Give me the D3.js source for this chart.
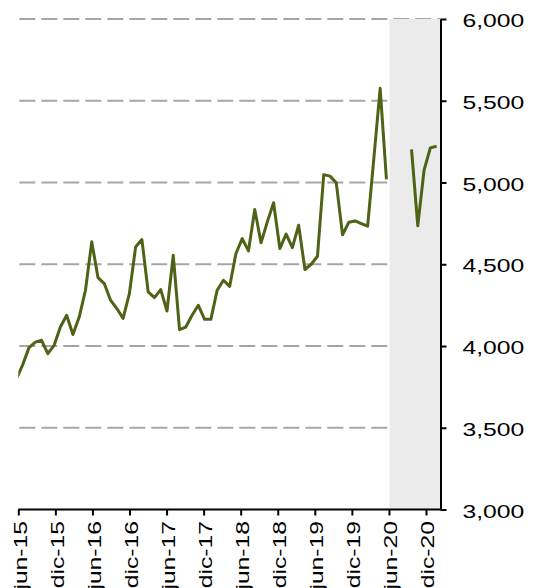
<!DOCTYPE html>
<html lang="es">
<head>
    <meta charset="UTF-8">
    <title>Serie mensual</title>
    <script src="https://cdn.jsdelivr.net/npm/d3@7"></script>
    <style>
        body { margin: 0; background: #fff; }
        svg { display: block; }
        text { font-family: "Liberation Sans", Arial, sans-serif; fill: #000; }
    </style>
</head>
<body>
    <div id="chart-space"></div>

    <script>
        // monthly values, jun-15 .. ene-21 (null = no data)
        var months = d3.range(0, 68);
        var values = [
            3800, 3886, 3990, 4024, 4035, 3953, 4004, 4116, 4188, 4070, 4177, 4341,
            4637, 4418, 4382, 4280, 4229, 4169, 4320, 4606, 4651, 4331, 4296, 4345,
            4214, 4555, 4100, 4116, 4188, 4249, 4163, 4163, 4341, 4402, 4365, 4566,
            4657, 4582, 4835, 4631, 4759, 4876, 4596, 4684, 4602, 4739, 4468, 4500,
            4549, 5048, 5039, 4998, 4680, 4757, 4765, 4749, 4733, 5150, 5576, 5019,
            null, null, null, 5202, 4735, 5075, 5212, 5222
        ];
        var tickLabels = ["jun-15", "dic-15", "jun-16", "dic-16", "jun-17", "dic-17",
            "jun-18", "dic-18", "jun-19", "dic-19", "jun-20", "dic-20"];
        var yTicks = [3000, 3500, 4000, 4500, 5000, 5500, 6000];
        var shadeFrom = 59.5;   // month index where the shaded period starts

        var width = 533;
        var height = 588;
        var plotLeft = 18.3;
        var plotRight = 440.5;
        var plotTop = 19;
        var plotBottom = 509.5;

        var data = months.map(function(m, i) { return {m: m, v: values[i]}; });

        var svg = d3.select("#chart-space")
            .append("svg")
            .attr("width", width)
            .attr("height", height);

        var xScale = d3.scaleLinear()
            .domain([0, 67])
            .range([16.5, 436.6]);

        var labelScale = d3.scalePoint()
            .domain(tickLabels)
            .range([plotLeft, 426]);

        var yScale = d3.scaleLinear()
            .domain([3000, 6000])
            .range([plotBottom, plotTop]);

        svg.append("defs").append("clipPath")
            .attr("id", "plot-clip")
            .append("rect")
            .attr("x", plotLeft)
            .attr("y", 0)
            .attr("width", plotRight - plotLeft)
            .attr("height", plotBottom);

        // dashed grid
        svg.append("g")
            .selectAll("line")
            .data(yTicks.filter(function(d) { return d > 3000; }))
            .join("line")
            .attr("x1", plotLeft + 1)
            .attr("x2", plotRight)
            .attr("y1", function(d) { return yScale(d); })
            .attr("y2", function(d) { return yScale(d); })
            .attr("stroke", "#a6a6a6")
            .attr("stroke-width", 2)
            .attr("stroke-dasharray", "16,6");

        // shaded period
        svg.append("rect")
            .attr("x", xScale(shadeFrom))
            .attr("y", yScale(6000))
            .attr("width", plotRight - xScale(shadeFrom))
            .attr("height", yScale(3000) - yScale(6000))
            .attr("fill", "#ebebeb");

        var line = d3.line()
            .defined(function(d) { return d.v !== null; })
            .x(function(d) { return xScale(d.m); })
            .y(function(d) { return yScale(d.v); });

        svg.append("path")
            .datum(data)
            .attr("clip-path", "url(#plot-clip)")
            .attr("d", line)
            .attr("fill", "none")
            .attr("stroke", "#4d6316")
            .attr("stroke-width", 3)
            .attr("stroke-linejoin", "round");

        // x axis
        var xAxis = svg.append("g")
            .attr("transform", "translate(0," + plotBottom + ")")
            .call(d3.axisBottom(labelScale).tickSize(6).tickSizeOuter(0).tickFormat(""));
        xAxis.select(".domain")
            .attr("d", "M" + plotLeft + ",0H" + plotRight)
            .attr("stroke", "#000")
            .attr("stroke-width", 2);
        xAxis.selectAll(".tick line").attr("stroke", "#000").attr("stroke-width", 2);

        svg.append("g")
            .selectAll("text")
            .data(tickLabels)
            .join("text")
            .attr("transform", function(d) {
                return "translate(" + (labelScale(d) + 8.4) + ",521) rotate(-90) scale(1.3,1)";
            })
            .attr("text-anchor", "end")
            .style("font-size", "19px")
            .text(function(d) { return d; });

        // y axis on the right
        var yAxis = svg.append("g")
            .attr("transform", "translate(" + plotRight + ",0)")
            .call(d3.axisRight(yScale).tickValues(yTicks).tickSize(6).tickSizeOuter(0).tickFormat(""));
        yAxis.select(".domain").attr("stroke", "#000").attr("stroke-width", 2);
        yAxis.selectAll(".tick line").attr("stroke", "#000").attr("stroke-width", 2);

        var fmt = d3.format(",");
        svg.append("g")
            .selectAll("text")
            .data(yTicks)
            .join("text")
            .attr("transform", function(d) {
                return "translate(462.5," + (yScale(d) + 8.2) + ") scale(1.3,1)";
            })
            .style("font-size", "19px")
            .text(function(d) { return fmt(d); });
    </script>
</body>
</html>
